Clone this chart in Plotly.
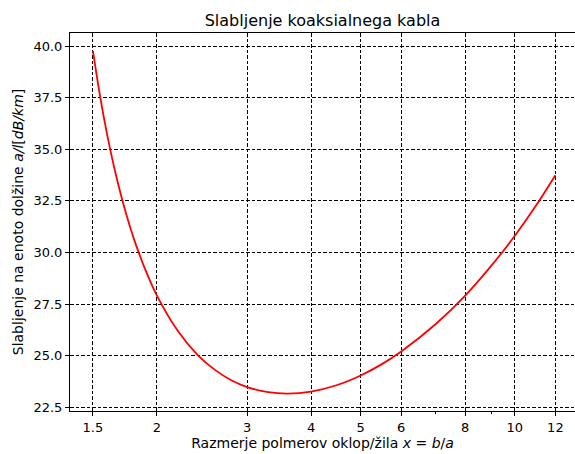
import math
import plotly.graph_objects as go

# Ratio of shield to core radius, x = b/a
ratio = [1.5, 1.55, 1.6, 1.65, 1.7, 1.75, 1.8, 1.9, 2.0, 2.2, 2.4, 2.6, 2.8, 3.0,
         3.3, 3.6, 4.0, 4.5, 5.0, 5.5, 6.0, 7.0, 8.0, 9.0, 10.0, 11.0, 12.0]
# Attenuation per unit length in dB/km
attenuation = [39.76, 37.52, 35.67, 34.13, 32.82, 31.69, 30.72, 29.14, 27.91, 26.18,
               25.04, 24.30, 23.80, 23.48, 23.23, 23.16, 23.26, 23.58, 24.04, 24.59,
               25.20, 26.52, 27.91, 29.36, 30.81, 32.27, 33.74]

x_ticks = [1.5, 2, 3, 4, 5, 6, 8, 10, 12]
x_tick_labels = ["1.5", "2", "3", "4", "5", "6", "8", "10", "12"]
x_minor = [7, 9]
y_ticks = [22.5, 25.0, 27.5, 30.0, 32.5, 35.0, 37.5, 40.0]

font = "DejaVu Sans"
grid_dash = "3.5px,2px"

fig = go.Figure()
fig.add_trace(go.Scatter(
    x=ratio, y=attenuation, mode="lines",
    line=dict(color="red", width=1.8, shape="spline"),
    showlegend=False,
))

fig.update_layout(
    width=575, height=454,
    margin=dict(l=70, r=0, t=33, b=43),
    paper_bgcolor="white", plot_bgcolor="white",
    font=dict(family=font, color="black", size=13),
    title=dict(text="Slabljenje koaksialnega kabla", xref="paper", x=0.5,
               xanchor="center", yref="container", y=0.955, yanchor="middle",
               font=dict(size=16)),
)

fig.update_xaxes(
    type="log", range=[math.log10(1.353), 1.1175],
    tickmode="array", tickvals=x_ticks, ticktext=x_tick_labels,
    ticks="outside", ticklen=4, tickwidth=1, tickcolor="black",
    showline=True, linecolor="black", linewidth=1, mirror=True,
    showgrid=True, gridcolor="black", gridwidth=1, griddash=grid_dash,
    zeroline=False,
    minor=dict(tickmode="array", tickvals=x_minor, ticks="outside", ticklen=2,
               tickcolor="black", showgrid=False),
    title=dict(text="Razmerje polmerov oklop/žila <i>x</i> = <i>b</i>/<i>a</i>",
               font=dict(size=14), standoff=4),
)

fig.update_yaxes(
    range=[22.32, 40.63],
    tickmode="array", tickvals=y_ticks, ticktext=[f"{v:.1f}" for v in y_ticks],
    ticks="outside", ticklen=4, tickwidth=1, tickcolor="black",
    showline=True, linecolor="black", linewidth=1, mirror=False,
    showgrid=True, gridcolor="black", gridwidth=1, griddash=grid_dash,
    zeroline=False,
    title=dict(text="Slabljenje na enoto dolžine <i>a/l</i>[<i>dB/km</i>]",
               font=dict(size=14), standoff=6),
)

fig.write_html("out.html")
